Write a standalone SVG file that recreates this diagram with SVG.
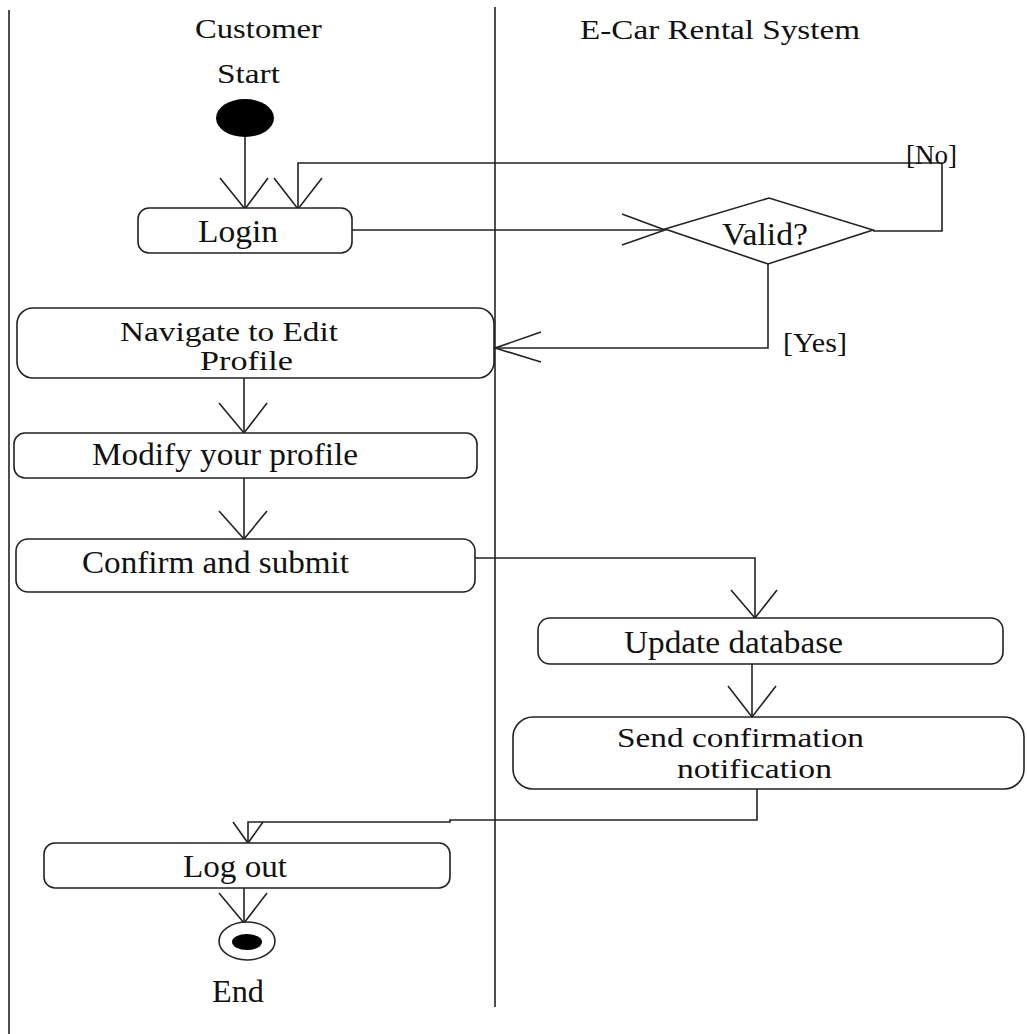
<svg xmlns="http://www.w3.org/2000/svg" width="1027" height="1034" viewBox="0 0 1027 1034">
<style>
  .ln { fill: none; stroke: #222; stroke-width: 1.6; }
  .box { fill: #fff; stroke: #222; stroke-width: 1.6; }
  .t { font-family: "Liberation Serif", "Times New Roman", serif; font-size: 31px; fill: #111; }
  .t2 { font-family: "Liberation Serif", "Times New Roman", serif; font-size: 28px; fill: #111; }
  .h { font-family: "Liberation Serif", "Times New Roman", serif; font-size: 28px; fill: #111; }
</style>
<rect width="1027" height="1034" fill="#fff"/>
<g id="lanes">
  <line class="ln" x1="9" y1="10" x2="9" y2="1034"/>
  <line class="ln" x1="495" y1="7" x2="495" y2="1007"/>
  <text class="h" x="195" y="38" textLength="127" lengthAdjust="spacingAndGlyphs">Customer</text>
  <text class="h" x="580" y="39" textLength="280" lengthAdjust="spacingAndGlyphs">E-Car Rental System</text>
</g>
<g id="connectors">
  <line class="ln" x1="245" y1="137" x2="245" y2="209"/>
  <polyline class="ln" points="220,178 245,209 268,178"/>
  <line class="ln" x1="352" y1="230" x2="665" y2="230"/>
  <polyline class="ln" points="622,214 665,230 622,245"/>
  <polyline class="ln" points="873,231 942,231 942,163 298,163 298,209"/>
  <polyline class="ln" points="274,178 298,209 322,178"/>
  <polyline class="ln" points="768,264 768,348 495,348"/>
  <polyline class="ln" points="541,332 495,348 541,362"/>
  <line class="ln" x1="244" y1="378" x2="244" y2="433"/>
  <polyline class="ln" points="219,403 244,433 267,403"/>
  <line class="ln" x1="244" y1="478" x2="244" y2="539"/>
  <polyline class="ln" points="219,511 244,539 267,511"/>
  <polyline class="ln" points="475,558 755,558 755,618"/>
  <polyline class="ln" points="731,590 755,618 777,590"/>
  <line class="ln" x1="752" y1="664" x2="752" y2="717"/>
  <polyline class="ln" points="728,686 752,717 776,686"/>
  <polyline class="ln" points="757,789 757,820 450,820 450,822 248,822 248,843"/>
  <polyline class="ln" points="233,822 248,843 263,822"/>
  <line class="ln" x1="244" y1="888" x2="244" y2="923"/>
  <polyline class="ln" points="219,893 244,923 267,893"/>
  <text class="h" x="906" y="164" textLength="51" lengthAdjust="spacingAndGlyphs">[No]</text>
  <text class="h" x="783" y="352" textLength="64" lengthAdjust="spacingAndGlyphs">[Yes]</text>
</g>
<g id="start">
  <text class="h" x="217" y="83" textLength="63" lengthAdjust="spacingAndGlyphs">Start</text>
  <ellipse cx="245" cy="118" rx="29" ry="19" fill="#000"/>
</g>
<g id="login">
  <rect class="box" x="138" y="208" width="214" height="45" rx="11"/>
  <text class="t" x="198" y="242" textLength="80" lengthAdjust="spacingAndGlyphs">Login</text>
</g>
<g id="valid">
  <polygon class="box" points="665,229 769,198 873,230 768,264"/>
  <text class="t" x="722" y="245" textLength="86" lengthAdjust="spacingAndGlyphs">Valid?</text>
</g>
<g id="navigate">
  <rect class="box" x="17" y="308" width="477" height="70" rx="16"/>
  <text class="t2" x="120" y="341" textLength="218" lengthAdjust="spacingAndGlyphs">Navigate to Edit</text>
  <text class="t2" x="200" y="370" textLength="93" lengthAdjust="spacingAndGlyphs">Profile</text>
</g>
<g id="modify">
  <rect class="box" x="14" y="433" width="463" height="45" rx="11"/>
  <text class="t" x="92" y="465" textLength="266" lengthAdjust="spacingAndGlyphs">Modify your profile</text>
</g>
<g id="confirm">
  <rect class="box" x="16" y="539" width="459" height="53" rx="12"/>
  <text class="t" x="82" y="573" textLength="267" lengthAdjust="spacingAndGlyphs">Confirm and submit</text>
</g>
<g id="update">
  <rect class="box" x="538" y="618" width="465" height="46" rx="12"/>
  <text class="t" x="624" y="653" textLength="219" lengthAdjust="spacingAndGlyphs">Update database</text>
</g>
<g id="send">
  <rect class="box" x="513" y="717" width="511" height="72" rx="20"/>
  <text class="t2" x="617" y="747" textLength="247" lengthAdjust="spacingAndGlyphs">Send confirmation</text>
  <text class="t2" x="677" y="778" textLength="155" lengthAdjust="spacingAndGlyphs">notification</text>
</g>
<g id="logout">
  <rect class="box" x="44" y="843" width="406" height="45" rx="11"/>
  <text class="t" x="183" y="877" textLength="104" lengthAdjust="spacingAndGlyphs">Log out</text>
</g>
<g id="end">
  <ellipse class="box" cx="247" cy="941" rx="28" ry="19"/>
  <ellipse cx="247" cy="942" rx="15" ry="8" fill="#000"/>
  <text class="t" x="212" y="1002" textLength="52" lengthAdjust="spacingAndGlyphs">End</text>
</g>
</svg>
